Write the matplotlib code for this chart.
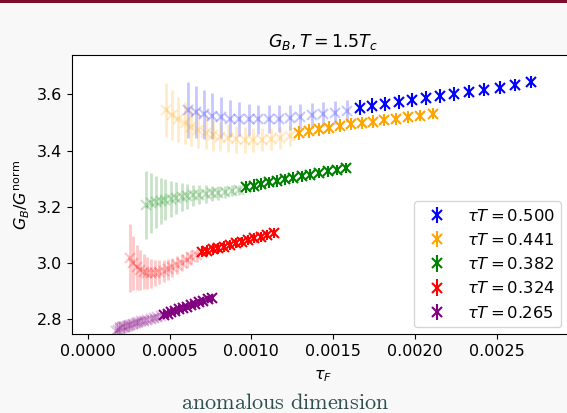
import matplotlib
matplotlib.use("Agg")
import matplotlib.pyplot as plt
from matplotlib.patches import Rectangle

# flow time tau_F and G_B/G^norm for each tau*T (first N_FADED points drawn faded)
N_FADED = 17

tauF_500 = [0.000614, 0.000661, 0.000711, 0.000762, 0.000814, 0.000869, 0.000925, 0.000983,
            0.001043, 0.001105, 0.001168, 0.001233, 0.001300, 0.001369, 0.001439, 0.001511,
            0.001585, 0.001661, 0.001739, 0.001818, 0.001899, 0.001982, 0.002066, 0.002153,
            0.002241, 0.002331, 0.002422, 0.002516, 0.002611, 0.002708]
G_500 = [3.544, 3.537, 3.529, 3.523, 3.518, 3.514, 3.512, 3.511, 3.511, 3.512, 3.514, 3.517,
         3.521, 3.525, 3.530, 3.535, 3.541,
         3.553, 3.560, 3.566, 3.573, 3.580, 3.587, 3.594, 3.601, 3.609, 3.616, 3.624, 3.634, 3.644]
err_500 = [0.100, 0.093, 0.087, 0.081, 0.074, 0.067, 0.061, 0.056, 0.052, 0.049, 0.047, 0.045,
           0.044, 0.043, 0.042, 0.041, 0.040,
           0.026, 0.026, 0.025, 0.025, 0.025, 0.024, 0.024, 0.024, 0.023, 0.023, 0.023, 0.022, 0.022]

tauF_441 = [0.000478, 0.000514, 0.000553, 0.000593, 0.000633, 0.000676, 0.000720, 0.000765,
            0.000811, 0.000860, 0.000909, 0.000959, 0.001011, 0.001065, 0.001119, 0.001175,
            0.001233, 0.001292, 0.001353, 0.001414, 0.001477, 0.001542, 0.001607, 0.001675,
            0.001743, 0.001813, 0.001884, 0.001957, 0.002031, 0.002107]
G_441 = [3.544, 3.526, 3.511, 3.497, 3.485, 3.473, 3.464, 3.455, 3.449, 3.445, 3.441, 3.439,
         3.438, 3.439, 3.441, 3.445, 3.451,
         3.462, 3.469, 3.476, 3.482, 3.488, 3.494, 3.499, 3.503, 3.508, 3.513, 3.518, 3.524, 3.531]
err_441 = [0.096, 0.089, 0.081, 0.074, 0.068, 0.063, 0.059, 0.055, 0.052, 0.050, 0.048, 0.046,
           0.044, 0.042, 0.040, 0.038, 0.036,
           0.024, 0.024, 0.023, 0.023, 0.023, 0.022, 0.022, 0.022, 0.021, 0.021, 0.021, 0.020, 0.020]

tauF_382 = [0.000358, 0.000386, 0.000415, 0.000445, 0.000475, 0.000507, 0.000540, 0.000574,
            0.000609, 0.000645, 0.000682, 0.000720, 0.000759, 0.000799, 0.000840, 0.000882,
            0.000925, 0.000970, 0.001015, 0.001061, 0.001108, 0.001157, 0.001206, 0.001257,
            0.001308, 0.001361, 0.001414, 0.001469, 0.001524, 0.001581]
G_382 = [3.207, 3.214, 3.218, 3.222, 3.226, 3.229, 3.233, 3.235, 3.238, 3.241, 3.243, 3.246,
         3.248, 3.251, 3.254, 3.257, 3.261,
         3.270, 3.276, 3.281, 3.287, 3.292, 3.298, 3.304, 3.309, 3.315, 3.320, 3.326, 3.331, 3.337]
err_382 = [0.121, 0.107, 0.092, 0.082, 0.072, 0.064, 0.057, 0.050, 0.044, 0.038, 0.034, 0.031,
           0.027, 0.025, 0.022, 0.020, 0.018,
           0.022, 0.022, 0.021, 0.021, 0.021, 0.020, 0.020, 0.020, 0.019, 0.019, 0.019, 0.018, 0.018]

tauF_324 = [0.000258, 0.000278, 0.000299, 0.000320, 0.000342, 0.000365, 0.000388, 0.000413,
            0.000438, 0.000464, 0.000490, 0.000518, 0.000546, 0.000575, 0.000604, 0.000634,
            0.000666, 0.000697, 0.000730, 0.000763, 0.000797, 0.000832, 0.000868, 0.000904,
            0.000941, 0.000979, 0.001017, 0.001056, 0.001096, 0.001137]
G_324 = [3.017, 3.000, 2.985, 2.976, 2.970, 2.966, 2.964, 2.965, 2.968, 2.972, 2.978, 2.985,
         2.994, 3.002, 3.011, 3.021, 3.029,
         3.041, 3.044, 3.049, 3.053, 3.059, 3.065, 3.071, 3.076, 3.082, 3.089, 3.094, 3.100, 3.108]
err_324 = [0.121, 0.095, 0.080, 0.070, 0.062, 0.056, 0.051, 0.047, 0.043, 0.040, 0.037, 0.034,
           0.031, 0.029, 0.027, 0.025, 0.023,
           0.020, 0.020, 0.020, 0.019, 0.019, 0.019, 0.018, 0.018, 0.018, 0.018, 0.017, 0.017, 0.017]

tauF_265 = [0.000172, 0.000186, 0.000200, 0.000214, 0.000229, 0.000244, 0.000260, 0.000276,
            0.000293, 0.000310, 0.000328, 0.000346, 0.000365, 0.000385, 0.000404, 0.000424,
            0.000445, 0.000467, 0.000488, 0.000511, 0.000533, 0.000557, 0.000580, 0.000605,
            0.000629, 0.000655, 0.000680, 0.000707, 0.000733, 0.000761]
G_265 = [2.760, 2.764, 2.768, 2.772, 2.775, 2.778, 2.781, 2.784, 2.787, 2.790, 2.793, 2.796,
         2.799, 2.802, 2.805, 2.808, 2.811,
         2.816, 2.821, 2.826, 2.831, 2.836, 2.841, 2.846, 2.851, 2.856, 2.861, 2.866, 2.871, 2.876]
err_265 = [0.032, 0.030, 0.028, 0.026, 0.024, 0.023, 0.022, 0.021, 0.020, 0.019, 0.018, 0.018,
           0.017, 0.017, 0.016, 0.016, 0.015,
           0.016, 0.016, 0.015, 0.015, 0.015, 0.014, 0.014, 0.014, 0.014, 0.013, 0.013, 0.013, 0.013]

labels = ["0.500", "0.441", "0.382", "0.324", "0.265"]
colors = ["blue", "orange", "green", "red", "purple"]
series = [(tauF_500, G_500, err_500), (tauF_441, G_441, err_441), (tauF_382, G_382, err_382),
          (tauF_324, G_324, err_324), (tauF_265, G_265, err_265)]

fig = plt.figure(figsize=(5.67, 4.13), dpi=100, facecolor="#f8f8f8")
ax = fig.add_axes([0.127, 0.191, 0.885, 0.676])
ax.set_facecolor("white")

for (x, y, e), lab, c in zip(series, labels, colors):
    n = N_FADED
    ax.errorbar(x[:n], y[:n], yerr=e[:n], fmt="x", color=c, alpha=0.22,
                markersize=7, mew=1.5, elinewidth=2)
    ax.errorbar(x[n:], y[n:], yerr=e[n:], fmt="x", color=c,
                markersize=7, mew=1.5, elinewidth=1.5, label=r"$\tau T = %s$" % lab)

ax.set_xlim(-0.000096, 0.00297)
ax.set_ylim(2.748, 3.74)
ax.set_xticks([0, 0.0005, 0.001, 0.0015, 0.002, 0.0025])
ax.set_xticklabels(["0.0000", "0.0005", "0.0010", "0.0015", "0.0020", "0.0025"])
ax.set_yticks([2.8, 3.0, 3.2, 3.4, 3.6])
ax.tick_params(labelsize=11.5)
ax.set_xlabel(r"$\tau_F$", fontsize=11.5, labelpad=7)
ax.set_ylabel(r"$G_B/G^{\mathrm{norm}}$", fontsize=11.5)
ax.set_title(r"$G_B, T = 1.5T_c$", fontsize=12.5)
ax.legend(loc="lower right", bbox_to_anchor=(0.9745, 0.025), borderaxespad=0,
          fontsize=11.8)

# slide decorations
fig.add_artist(Rectangle((0, 1 - 3 / 413), 1, 3 / 413, transform=fig.transFigure,
                         color="#7b0c2a", lw=0))
fig.text(0.503, 0.0, r"$\mathrm{anomalous\ dimension}$", math_fontfamily="cm",
         fontsize=16, color="#2f4f4f", ha="center", va="bottom")

fig.savefig("out.png", dpi=100, facecolor=fig.get_facecolor())
